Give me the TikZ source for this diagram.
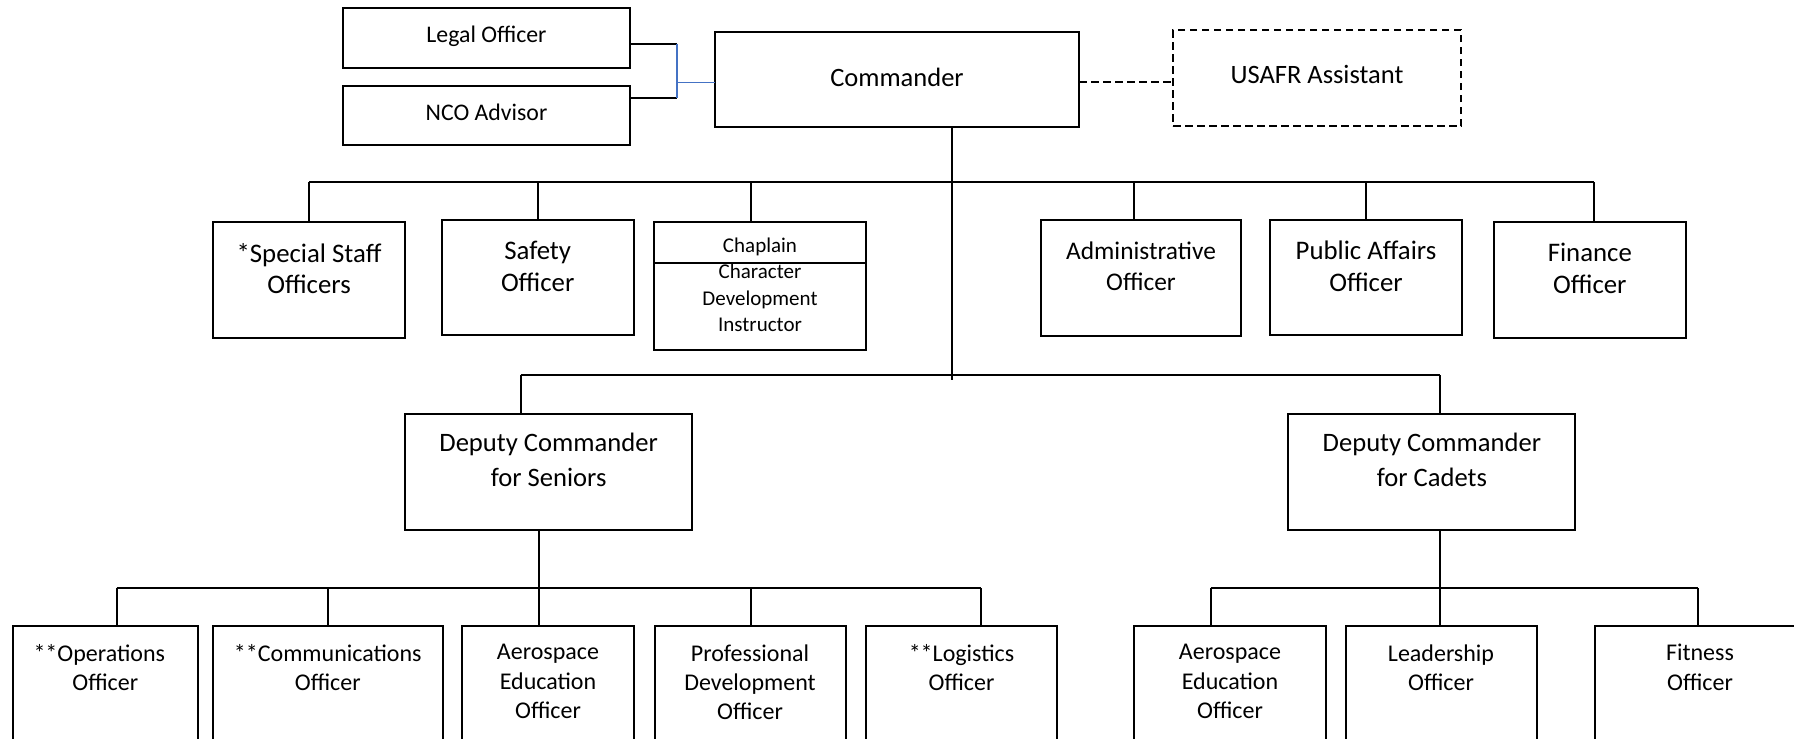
\documentclass[tikz,border=0pt]{standalone}
\usepackage{fontspec}
\setmainfont{Carlito}
\usetikzlibrary{positioning}
\definecolor{linkblue}{RGB}{68,114,196}
\newcommand{\hdtxt}{\fontsize{13.25}{16}\selectfont}
\newcommand{\advtxt}{\fontsize{11.9}{14.5}\selectfont}
\newcommand{\stftxt}{\fontsize{13.4}{15.85}\selectfont}
\newcommand{\admtxt}{\fontsize{12.7}{15.85}\selectfont}
\newcommand{\deptxt}{\fontsize{13.3}{17.6}\selectfont}
\newcommand{\lowtxt}{\fontsize{12}{14.6}\selectfont}
\newcommand{\chtxt}{\fontsize{10.5}{13.1}\selectfont}
\tikzset{
  link/.style={line width=1pt},
  advlink/.style={line width=0.75pt, draw=linkblue},
  post/.style={draw, line width=1pt, inner sep=0pt, outer sep=0pt},
  ttl/.style={anchor=north, align=center, inner xsep=0pt, inner ysep=10.4pt},
  adv/.style={post, minimum width=143.5pt, minimum height=29.75pt, text depth=3.5pt, font=\advtxt},
  head/.style={post, minimum width=182pt, minimum height=47.5pt, text depth=2.5pt, font=\hdtxt},
  staff/.style={post, minimum width=96pt, minimum height=57.75pt, label={[ttl, font=\stftxt]north:{#1}}},
  deputy/.style={post, minimum width=143.5pt, minimum height=57.75pt, label={[ttl, inner ysep=9.1pt, font=\deptxt]north:{#1}}},
  squad/.style={post, anchor=north, minimum width=96pt, minimum height=100pt, label={[ttl, inner ysep=9pt, font=\lowtxt]north:{#1}}},
}

\begin{document}
\begin{tikzpicture}[x=0.5pt, y=-0.5pt]
\useasboundingbox (0,0) rectangle (1794,739);
\clip (0,0) rectangle (1794,739);
% Command level
\node[adv] (legal) at (486.5,38) {Legal Officer};
\node[adv] (nco) at (486.5,115.5) {NCO Advisor};
\node[head] (cmd) at (897,79.5) {Commander};
\node[head, dash pattern=on 3.75pt off 2.25pt, minimum width=144pt, minimum height=48pt, text depth=3.4pt] (usafr) at (1317,78) {USAFR Assistant};

% Staff
\node[staff={*Special Staff\\Officers}] (special) at (309,279.8) {};
\node[staff={Safety\\Officer}] (safety) at (537.7,277.5) {};
\node[post, minimum width=105.8pt, minimum height=20.5pt, text height=12pt, font=\chtxt] (chapa) at (760,242.5) {Chaplain};
\node[post, minimum width=105.8pt, minimum height=43.5pt, below=0pt of chapa, label={[ttl, inner ysep=0.5pt, font=\chtxt]north:{Character\\Development\\Instructor}}] (chapb) {};
\node[post, minimum width=100pt, minimum height=57.75pt, label={[ttl, font=\admtxt]north:{Administrative\\Officer}}] (admin) at (1141,278) {};
\node[staff={Public Affairs\\Officer}] (public) at (1366,277.5) {};
\node[staff={Finance\\Officer}] (finance) at (1589.8,279.8) {};

% Deputies
\node[deputy={Deputy Commander\\for Seniors}] (depsen) at (548.6,472) {};
\node[deputy={Deputy Commander\\for Cadets}] (depcad) at (1431.9,472) {};

% Seniors staff
\node[squad={**Operations\hspace*{6pt}\\Officer}, minimum width=92.7pt] (ops) at (105.3,626) {};
\node[squad={**Communications\\Officer}, minimum width=115pt] (comm) at (327.8,626) {};
\node[squad={Aerospace\\Education\\Officer}, minimum width=85.8pt] (aerosen) at (548,626) {};
\node[squad={Professional\\Development\\Officer}, minimum width=95.5pt] (prof) at (750,626) {};
\node[squad={**Logistics\\Officer}, minimum width=95.5pt] (logi) at (961.5,626) {};

% Cadets staff
\node[squad={Aerospace\\Education\\Officer}] (aerocad) at (1230,626) {};
\node[squad={Leadership\\Officer}, minimum width=95.5pt] (lead) at (1441,626) {};
\node[squad={Fitness\\Officer}, minimum width=105pt] (fit) at (1700,626) {};

% Advisors
\coordinate (lgj) at (677,43.5);
\coordinate (ncj) at (677,98.4);
\coordinate (adj) at (677,82.4);
\draw[link] (legal.east |- lgj) -- (lgj);
\draw[link] (nco.east |- ncj) -- (ncj);
\draw[advlink] (lgj) -- (ncj);
\draw[advlink] (adj) -- (adj -| cmd.west);
\coordinate (dsh) at (1120,82.4);
\draw[link, dash pattern=on 3.75pt off 2.25pt] (dsh -| cmd.east) -- (dsh -| usafr.west);

% Trunk and staff bus
\coordinate (trunk) at (952,380);
\draw[link] (cmd.south -| trunk) -- (trunk);
\coordinate (dSpc) at (309,182);
\coordinate (dSaf) at (537.7,182);
\coordinate (dChp) at (750.5,182);
\coordinate (dAdm) at (1134,182);
\coordinate (dPub) at (1366,182);
\coordinate (dFin) at (1594,182);
\draw[link] (dSpc) -- (dFin);
\draw[link] (dSpc) -- (dSpc |- special.north);
\draw[link] (dSaf) -- (dSaf |- safety.north);
\draw[link] (dChp) -- (dChp |- chapa.north);
\draw[link] (dAdm) -- (dAdm |- admin.north);
\draw[link] (dPub) -- (dPub |- public.north);
\draw[link] (dFin) -- (dFin |- finance.north);

% Deputy bus
\coordinate (dSen) at (520.6,375);
\coordinate (dCad) at (1440.4,375);
\draw[link] (dSen) -- (dCad);
\draw[link] (dSen) -- (dSen |- depsen.north);
\draw[link] (dCad) -- (dCad |- depcad.north);

% Seniors bus
\coordinate (sTop) at (538.9,588);
\coordinate (dOps) at (116.7,588);
\coordinate (dCom) at (328.4,588);
\coordinate (dPro) at (750.5,588);
\coordinate (dLog) at (980.5,588);
\draw[link] (sTop |- depsen.south) -- (sTop);
\draw[link] (dOps) -- (dLog);
\draw[link] (dOps) -- (dOps |- ops.north);
\draw[link] (dCom) -- (dCom |- comm.north);
\draw[link] (sTop) -- (sTop |- aerosen.north);
\draw[link] (dPro) -- (dPro |- prof.north);
\draw[link] (dLog) -- (dLog |- logi.north);

% Cadets bus
\coordinate (cTop) at (1440.4,588);
\coordinate (dAec) at (1210.5,588);
\coordinate (dFit) at (1698,588);
\draw[link] (cTop |- depcad.south) -- (cTop);
\draw[link] (dAec) -- (dFit);
\draw[link] (dAec) -- (dAec |- aerocad.north);
\draw[link] (cTop) -- (cTop |- lead.north);
\draw[link] (dFit) -- (dFit |- fit.north);
\end{tikzpicture}
\end{document}
